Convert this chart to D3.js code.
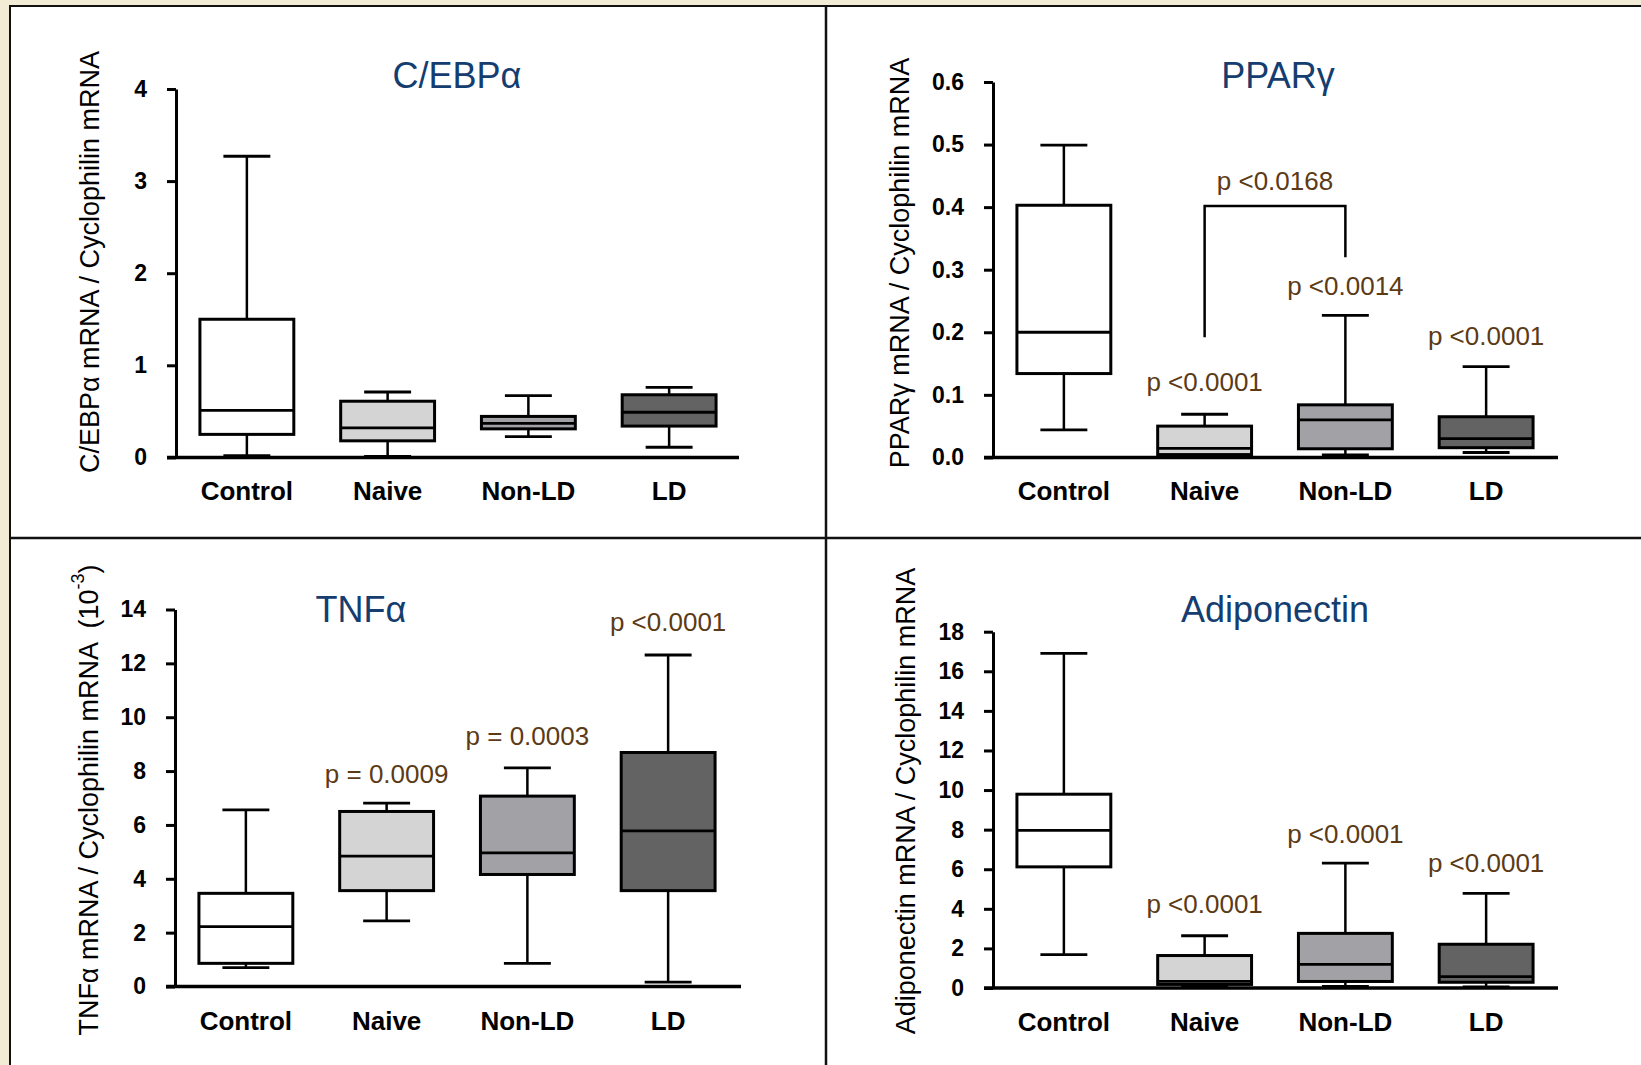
<!DOCTYPE html>
<html>
<head>
<meta charset="utf-8">
<script src="https://cdn.jsdelivr.net/npm/d3@7"></script>
<style>
body { margin: 0; background: #f2ebd6; }
svg { display: block; font-family: "Liberation Sans", Arial, sans-serif; }
</style>
</head>
<body>
<div id="chart"></div>
<script>
"use strict"

var groups = ["Control", "Naive", "Non-LD", "LD"]
var fills = ["#ffffff", "#d4d4d4", "#a2a1a6", "#636363"]

// each row: [whisker low, q1, median, q3, whisker high]
var cebpa = [
    [0.02, 0.25, 0.51, 1.50, 3.27],
    [0.01, 0.18, 0.32, 0.61, 0.71],
    [0.225, 0.31, 0.37, 0.445, 0.67],
    [0.11, 0.34, 0.49, 0.68, 0.76]
]
var pparg = [
    [0.044, 0.134, 0.200, 0.403, 0.499],
    [0.002, 0.0045, 0.0144, 0.050, 0.069],
    [0.004, 0.0138, 0.060, 0.084, 0.227],
    [0.0078, 0.0155, 0.030, 0.065, 0.145]
]
var tnfa = [
    [0.70, 0.86, 2.22, 3.46, 6.56],
    [2.44, 3.56, 4.84, 6.50, 6.81],
    [0.86, 4.16, 4.96, 7.07, 8.12],
    [0.16, 3.56, 5.78, 8.69, 12.31]
]
var adipo = [
    [1.69, 6.12, 7.96, 9.79, 16.90],
    [0.08, 0.18, 0.33, 1.64, 2.64],
    [0.08, 0.33, 1.19, 2.76, 6.31],
    [0.06, 0.29, 0.57, 2.21, 4.78]
]

var cebpaTicks = [0, 1, 2, 3, 4]
var ppargTicks = [0, 0.1, 0.2, 0.3, 0.4, 0.5, 0.6]
var tnfaTicks = [0, 2, 4, 6, 8, 10, 12, 14]
var adipoTicks = [0, 2, 4, 6, 8, 10, 12, 14, 16, 18]

// p-value labels: [group, text, value where the label sits]
var ppargP = [["Naive", "p <0.0001", 0.1205], ["Non-LD", "p <0.0014", 0.274], ["LD", "p <0.0001", 0.194]]
var tnfaP = [["Naive", "p = 0.0009", 7.89], ["Non-LD", "p = 0.0003", 9.31], ["LD", "p <0.0001", 13.56]]
var adipoP = [["Naive", "p <0.0001", 4.26], ["Non-LD", "p <0.0001", 7.79], ["LD", "p <0.0001", 6.33]]

// bracket Naive vs Non-LD in PPARg: [left end, top, right end, label, label value]
var ppargBracket = [0.192, 0.402, 0.32, "p <0.0168", 0.442]

var W = 1641, H = 1065

var svg = d3.select("#chart").append("svg")
    .attr("width", W)
    .attr("height", H)

svg.append("rect").attr("x", 0).attr("y", 0).attr("width", W).attr("height", H).attr("fill", "#f2ebd6")
svg.append("rect").attr("x", 10).attr("y", 6).attr("width", W).attr("height", H)
    .attr("fill", "#fff").attr("stroke", "#111").attr("stroke-width", 2)
svg.append("line").attr("x1", 826).attr("x2", 826).attr("y1", 6).attr("y2", H)
    .attr("stroke", "#111").attr("stroke-width", 2.5)
svg.append("line").attr("x1", 10).attr("x2", W).attr("y1", 538).attr("y2", 538)
    .attr("stroke", "#111").attr("stroke-width", 2.5)

var panels = [
    { data: cebpa, ticks: cebpaTicks, fmt: "d", ax: 176, top: 89, y0: 457.4, xEnd: 739,
      title: "C/EBPα", tx: 457, ty: 75, label: "C/EBPα mRNA / Cyclophilin mRNA", lx: 89, ly: 262, pv: [] },
    { data: pparg, ticks: ppargTicks, fmt: ".1f", ax: 993, top: 82, y0: 457.4, xEnd: 1558,
      title: "PPARγ", tx: 1278, ty: 75, label: "PPARγ mRNA / Cyclophilin mRNA", lx: 899, ly: 263, pv: ppargP },
    { data: tnfa, ticks: tnfaTicks, fmt: "d", ax: 175, top: 609.5, y0: 986.5, xEnd: 741,
      title: "TNFα", tx: 361, ty: 609, label: "TNFα mRNA / Cyclophilin mRNA  (10", sup: "-3", lx: 88, ly: 800, pv: tnfaP },
    { data: adipo, ticks: adipoTicks, fmt: "d", ax: 993, top: 631.7, y0: 988, xEnd: 1558,
      title: "Adiponectin", tx: 1275, ty: 609, label: "Adiponectin mRNA / Cyclophilin mRNA", lx: 905, ly: 801, pv: adipoP }
]

function draw_panel(p, idx) {
    var g = svg.append("g")

    var x = d3.scaleBand()
        .domain(groups)
        .range([p.ax, p.ax + 564])
        .paddingInner(0.333)
        .paddingOuter(0.17)

    var y = d3.scaleLinear()
        .domain([0, p.ticks[p.ticks.length - 1]])
        .range([p.y0, p.top])

    var bw = x.bandwidth()

    var box = g.selectAll("g.box")
        .data(p.data)
        .enter()
        .append("g")
        .attr("class", "box")

    // whisker stems
    box.append("line")
        .attr("x1", function(d, i) { return x(groups[i]) + bw / 2 })
        .attr("x2", function(d, i) { return x(groups[i]) + bw / 2 })
        .attr("y1", function(d) { return y(d[0]) })
        .attr("y2", function(d) { return y(d[4]) })
        .attr("stroke", "#000")
        .attr("stroke-width", 2.5)

    // whisker caps
    ;[0, 4].forEach(function(k) {
        box.append("line")
            .attr("x1", function(d, i) { return x(groups[i]) + bw / 4 })
            .attr("x2", function(d, i) { return x(groups[i]) + bw * 3 / 4 })
            .attr("y1", function(d) { return y(d[k]) })
            .attr("y2", function(d) { return y(d[k]) })
            .attr("stroke", "#000")
            .attr("stroke-width", 2.8)
    })

    box.append("rect")
        .attr("x", function(d, i) { return x(groups[i]) })
        .attr("width", bw)
        .attr("y", function(d) { return y(d[3]) })
        .attr("height", function(d) { return y(d[1]) - y(d[3]) })
        .attr("fill", function(d, i) { return fills[i] })
        .attr("stroke", "#000")
        .attr("stroke-width", 3)

    box.append("line")
        .attr("x1", function(d, i) { return x(groups[i]) })
        .attr("x2", function(d, i) { return x(groups[i]) + bw })
        .attr("y1", function(d) { return y(d[2]) })
        .attr("y2", function(d) { return y(d[2]) })
        .attr("stroke", "#000")
        .attr("stroke-width", 2.8)

    // y axis
    var yaxis = d3.axisLeft(y)
        .tickValues(p.ticks)
        .tickFormat(d3.format(p.fmt))
        .tickSize(9)
        .tickSizeOuter(0)
        .tickPadding(20)

    var ya = g.append("g")
        .attr("transform", "translate(" + p.ax + ",0)")
        .call(yaxis)
    ya.select(".domain").attr("stroke", "#000").attr("stroke-width", 3)
    ya.selectAll(".tick line").attr("stroke", "#000").attr("stroke-width", 3)
    ya.selectAll(".tick text")
        .attr("fill", "#000")
        .attr("font-size", 23)
        .attr("font-weight", "bold")
        .attr("font-family", "Liberation Sans, Arial, sans-serif")

    // x axis baseline
    g.append("line")
        .attr("x1", p.ax - 9).attr("x2", p.xEnd)
        .attr("y1", p.y0).attr("y2", p.y0)
        .attr("stroke", "#000")
        .attr("stroke-width", 3.5)

    g.selectAll("text.cat")
        .data(groups)
        .enter()
        .append("text")
        .attr("class", "cat")
        .attr("x", function(d) { return x(d) + bw / 2 })
        .attr("y", p.y0 + 43)
        .attr("text-anchor", "middle")
        .attr("font-size", 26)
        .attr("font-weight", "bold")
        .text(function(d) { return d })

    g.append("text")
        .attr("x", p.tx).attr("y", p.ty).attr("dy", "0.36em")
        .attr("text-anchor", "middle")
        .attr("font-size", 36)
        .attr("fill", "#153d6f")
        .text(p.title)

    var lab = g.append("text")
        .attr("transform", "translate(" + p.lx + "," + p.ly + ") rotate(-90)")
        .attr("dy", "0.36em")
        .attr("text-anchor", "middle")
        .attr("font-size", 27)
        .attr("fill", "#000")
        .style("white-space", "pre")
        .text(p.label)
    if (p.sup) {
        lab.append("tspan").attr("font-size", 18).attr("dy", "-0.75em").text(p.sup)
        lab.append("tspan").attr("font-size", 27).attr("dy", "0.5em").text(")")
    }

    g.selectAll("text.pv")
        .data(p.pv)
        .enter()
        .append("text")
        .attr("class", "pv")
        .attr("x", function(d) { return x(d[0]) + bw / 2 })
        .attr("y", function(d) { return y(d[2]) })
        .attr("dy", "0.36em")
        .attr("text-anchor", "middle")
        .attr("font-size", 26)
        .attr("fill", "#5c3a16")
        .text(function(d) { return d[1] })

    return { x: x, y: y, g: g }
}

var drawn = panels.map(draw_panel)

// bracket between Naive and Non-LD in the PPARg panel
var pp = drawn[1]
var bx1 = pp.x("Naive") + pp.x.bandwidth() / 2
var bx2 = pp.x("Non-LD") + pp.x.bandwidth() / 2
var linefunc = d3.line()
    .x(function(d) { return d.x })
    .y(function(d) { return d.y })
pp.g.append("path")
    .attr("d", linefunc([
        { x: bx1, y: pp.y(ppargBracket[0]) },
        { x: bx1, y: pp.y(ppargBracket[1]) },
        { x: bx2, y: pp.y(ppargBracket[1]) },
        { x: bx2, y: pp.y(ppargBracket[2]) }
    ]))
    .attr("fill", "none")
    .attr("stroke", "#000")
    .attr("stroke-width", 2.5)
pp.g.append("text")
    .attr("x", (bx1 + bx2) / 2)
    .attr("y", pp.y(ppargBracket[4]))
    .attr("dy", "0.36em")
    .attr("text-anchor", "middle")
    .attr("font-size", 26)
    .attr("fill", "#5c3a16")
    .text(ppargBracket[3])
</script>
</body>
</html>
